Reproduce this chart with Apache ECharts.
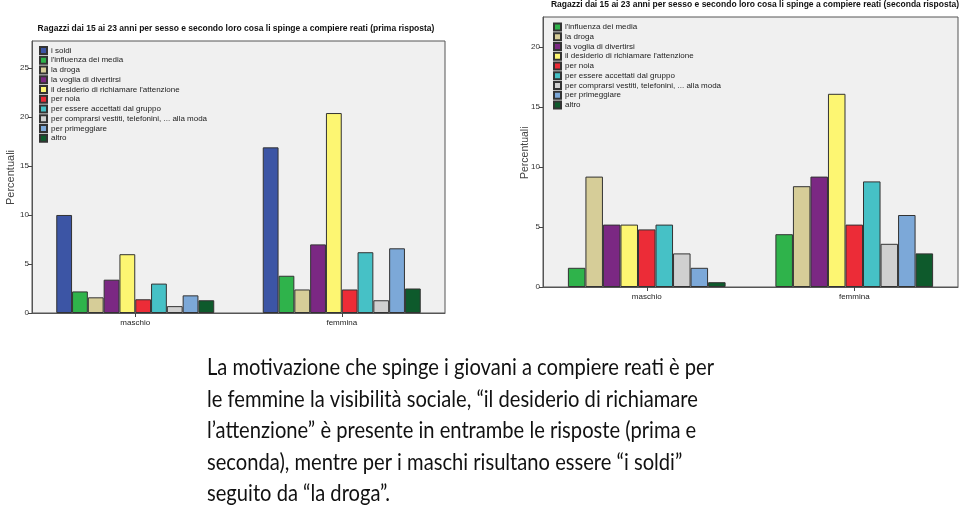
<!DOCTYPE html>
<html>
<head>
<meta charset="utf-8">
<script src="https://cdn.jsdelivr.net/npm/echarts@6/dist/echarts.min.js"></script>
<style>
html,body{margin:0;padding:0;background:#fff;}
#c{width:960px;height:505px;}
</style>
</head>
<body>
<div id="c"></div>
<script>
// ---- data ----
const categories = ['maschio', 'femmina'];

const namesPrima = ['i soldi', "l'influenza dei media", 'la droga', 'la voglia di divertirsi',
  "il desiderio di richiamare l'attenzione", 'per noia', 'per essere accettati dal gruppo',
  'per comprarsi vestiti, telefonini, ... alla moda', 'per primeggiare', 'altro'];
// values per reason: [maschio, femmina]
const soldi1 = [10.0, 16.9];
const influenza1 = [2.2, 3.8];
const droga1 = [1.6, 2.4];
const voglia1 = [3.4, 7.0];
const desiderio1 = [6.0, 20.4];
const noia1 = [1.4, 2.4];
const accettati1 = [3.0, 6.2];
const comprarsi1 = [0.7, 1.3];
const primeggiare1 = [1.8, 6.6];
const altro1 = [1.3, 2.5];

const namesSeconda = ["l'influenza dei media", 'la droga', 'la voglia di divertirsi',
  "il desiderio di richiamare l'attenzione", 'per noia', 'per essere accettati dal gruppo',
  'per comprarsi vestiti, telefonini, ... alla moda', 'per primeggiare', 'altro'];
const influenza2 = [1.6, 4.4];
const droga2 = [9.2, 8.4];
const voglia2 = [5.2, 9.2];
const desiderio2 = [5.2, 16.1];
const noia2 = [4.8, 5.2];
const accettati2 = [5.2, 8.8];
const comprarsi2 = [2.8, 3.6];
const primeggiare2 = [1.6, 6.0];
const altro2 = [0.4, 2.8];

const yTicksLeft = [0, 5, 10, 15, 20, 25];
const yTicksRight = [0, 5, 10, 15, 20];

const titlePrima = 'Ragazzi dai 15 ai 23 anni per sesso e secondo loro cosa li spinge a compiere reati (prima risposta)';
const titleSeconda = 'Ragazzi dai 15 ai 23 anni per sesso e secondo loro cosa li spinge a compiere reati (seconda risposta)';
const yName = 'Percentuali';
const bodyLines = [
  'La motivazione che spinge i giovani a compiere reati è per',
  'le femmine la visibilità sociale, “il desiderio di richiamare',
  'l’attenzione” è presente in entrambe le risposte (prima e',
  'seconda), mentre per i maschi risultano essere “i soldi”',
  'seguito da “la droga”.'
];

// ---- styles ----
const colorMap = {
  'i soldi': '#3c55a5',
  "l'influenza dei media": '#2fb34b',
  'la droga': '#d6cd98',
  'la voglia di divertirsi': '#7b2883',
  "il desiderio di richiamare l'attenzione": '#fdf672',
  'per noia': '#ec2c37',
  'per essere accettati dal gruppo': '#46c1c6',
  'per comprarsi vestiti, telefonini, ... alla moda': '#d0d0d0',
  'per primeggiare': '#7ca8d8',
  'altro': '#0e5a2c'
};

const valsPrima = [soldi1, influenza1, droga1, voglia1, desiderio1, noia1, accettati1, comprarsi1, primeggiare1, altro1];
const valsSeconda = [influenza2, droga2, voglia2, desiderio2, noia2, accettati2, comprarsi2, primeggiare2, altro2];

const FONT = 'Liberation Sans, Arial, sans-serif';

function mkSeries(names, vals, idx, gap) {
  return names.map((n, i) => ({
    type: 'bar', name: n, xAxisIndex: idx, yAxisIndex: idx,
    data: vals[i], barGap: '0%', barCategoryGap: gap,
    itemStyle: { color: colorMap[n], borderColor: '#333', borderWidth: 1 },
    emphasis: { disabled: true }, animation: false
  }));
}

function mkY(idx, max, ticks) {
  return {
    type: 'value', gridIndex: idx, min: 0, max: max,
    axisLine: { show: true, lineStyle: { color: '#555', width: 1 } },
    axisTick: { show: true, length: 4, customValues: ticks, lineStyle: { color: '#444' } },
    axisLabel: { fontSize: 8, color: '#333', margin: 3, fontFamily: FONT, customValues: ticks },
    splitLine: { show: false }
  };
}
function mkX(idx) {
  return {
    type: 'category', gridIndex: idx, data: categories,
    axisLine: { show: true, lineStyle: { color: '#555' } },
    axisTick: { show: true, alignWithLabel: true, length: 4, lineStyle: { color: '#444' } },
    axisLabel: { fontSize: 8, color: '#222', margin: 6, fontFamily: FONT }
  };
}

const chart = echarts.init(document.getElementById('c'), null, { renderer: 'canvas' });
chart.setOption({
  backgroundColor: '#fff',
  animation: false,
  title: [
    { text: titlePrima, left: 236, top: 24.5, textAlign: 'center', padding: 0,
      textStyle: { fontSize: 8.5, fontWeight: 'bold', color: '#111', fontFamily: FONT } },
    { text: titleSeconda, left: 755, top: 0, textAlign: 'center', padding: 0,
      textStyle: { fontSize: 8.5, fontWeight: 'bold', color: '#111', fontFamily: FONT } }
  ],
  grid: [
    { left: 32, top: 41, width: 413, height: 272, show: true, backgroundColor: '#f0f0f0',
      borderColor: '#555', borderWidth: 1, containLabel: false },
    { left: 543, top: 17, width: 415, height: 270, show: true, backgroundColor: '#f0f0f0',
      borderColor: '#555', borderWidth: 1, containLabel: false }
  ],
  legend: [
    { data: namesPrima, orient: 'vertical', left: 39, top: 46, itemWidth: 7, itemHeight: 7,
      itemGap: 0.75, icon: 'rect', selectedMode: false, padding: 0,
      textStyle: { fontSize: 8, color: '#222', fontFamily: FONT, padding: [0, 0, 0, -1] } },
    { data: namesSeconda, orient: 'vertical', left: 553, top: 22.5, itemWidth: 7, itemHeight: 7,
      itemGap: 0.75, icon: 'rect', selectedMode: false, padding: 0,
      textStyle: { fontSize: 8, color: '#222', fontFamily: FONT, padding: [0, 0, 0, -1] } }
  ],
  xAxis: [mkX(0), mkX(1)],
  yAxis: [mkY(0, 27.75, yTicksLeft), mkY(1, 22.5, yTicksRight)],
  series: mkSeries(namesPrima, valsPrima, 0, '23.5%').concat(mkSeries(namesSeconda, valsSeconda, 1, '24%')),
  graphic: [
    { type: 'text', x: 5, y: 205, rotation: Math.PI / 2,
      style: { text: yName, fontSize: 11, fill: '#444', fontFamily: FONT } },
    { type: 'text', x: 520, y: 179, rotation: Math.PI / 2,
      style: { text: yName, fontSize: 10.5, fill: '#444', fontFamily: FONT } },
    { type: 'text', x: 207, y: 352, scaleX: 0.857, scaleY: 1,
      style: { text: bodyLines.join('\n'), fontSize: 23.5, lineHeight: 31.5, fill: '#111',
        fontFamily: 'Lato, Noto Sans, sans-serif' } }
  ]
});
</script>
</body>
</html>
